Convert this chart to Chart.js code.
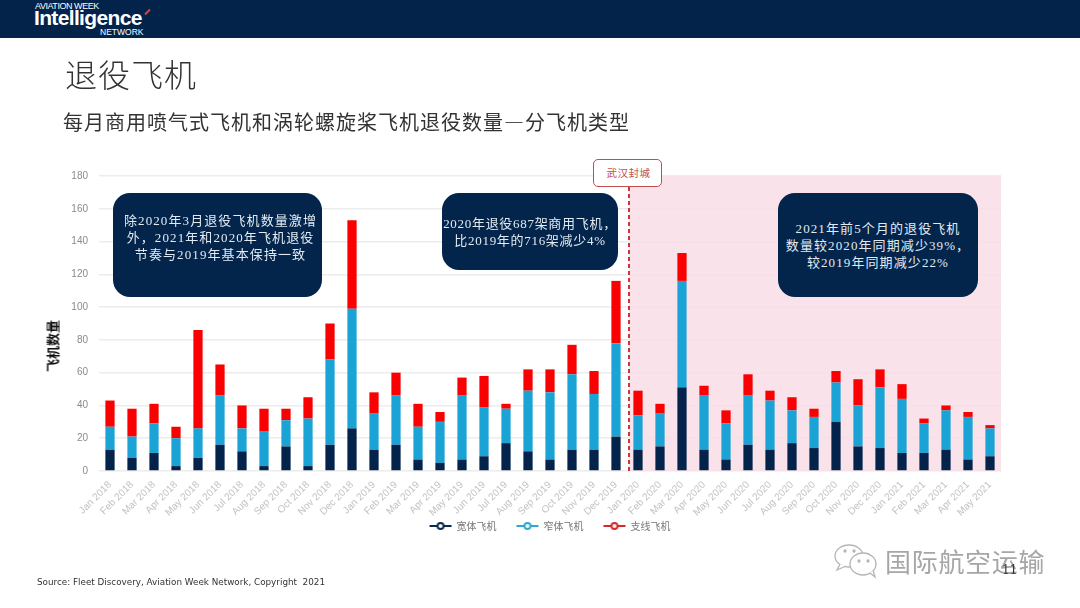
<!DOCTYPE html>
<html lang="zh">
<head>
<meta charset="UTF-8">
<title>退役飞机</title>
<script src="https://cdn.jsdelivr.net/npm/chart.js@4"></script>
<style>
  html, body { margin: 0; padding: 0; background: #fff; }
  #page { position: relative; width: 1080px; height: 608px; overflow: hidden; font-family: "Noto Sans CJK SC", sans-serif; }
  #page div { position: absolute; white-space: nowrap; }
  canvas { position: absolute; left: 0; top: 0; }
  #bar { left: 0; top: 0; width: 1080px; height: 38px; background: #03234b; }
  .logo { color: #fff; font-family: "Liberation Sans", sans-serif; }
  .callout { background: #03254c; color: #e2eaf1; border-radius: 17px; text-align: center; font-family: "Liberation Serif", "Noto Sans CJK SC", serif; font-size: 13px; line-height: 17px; letter-spacing: 1.1px; box-sizing: border-box; white-space: normal !important; }
</style>
</head>
<body>
<div id="page">
  <canvas id="chart" width="1080" height="608"></canvas>
  <div id="bar"></div>
  <div class="logo" style="left:35px;top:1px;font-size:9px;line-height:11px;letter-spacing:-.45px;">AVIATION WEEK</div>
  <div class="logo" style="left:34px;top:6px;font-size:21px;font-weight:bold;letter-spacing:-.65px;">Intelligence</div>
  <div class="logo" style="left:100px;top:28px;font-size:8.5px;line-height:9px;">NETWORK</div>
  <div style="left:144px;top:11px;width:7px;height:2px;background:#d9443f;transform:rotate(-45deg);"></div>

  <div style="left:65px;top:51px;font-size:32px;line-height:44px;color:#333;font-weight:300;letter-spacing:1px;">退役飞机</div>
  <div style="left:63px;top:108px;font-size:20px;line-height:28px;color:#333;letter-spacing:1px;">每月商用喷气式飞机和涡轮螺旋桨飞机退役数量—分飞机类型</div>

  <div style="left:52px;top:346px;font-size:13px;font-weight:bold;color:#111;transform:translate(-50%,-50%) rotate(-90deg);">飞机数量</div>

  <div class="callout" style="left:113px;top:193px;width:209px;height:104px;padding-top:19px;padding-left:6px;">除2020年3月退役飞机数量激增<br>外，2021年和2020年飞机退役<br>节奏与2019年基本保持一致</div>
  <div class="callout" style="left:442px;top:193px;width:176px;height:77px;padding-top:22px;letter-spacing:.7px;white-space:nowrap !important;">2020年退役687架商用飞机，<br>比2019年的716架减少4%</div>
  <div class="callout" style="left:778px;top:193px;width:200px;height:104px;padding-top:27px;">2021年前5个月的退役飞机<br>数量较2020年同期减少39%，<br>较2019年同期减少22%</div>

  <div style="left:593px;top:159px;width:69px;height:28px;box-sizing:border-box;background:#fff;border:1.5px solid #c0504d;border-radius:5px;color:#c0504d;font-size:10.5px;line-height:26px;text-align:center;letter-spacing:.5px;padding-left:2px;">武汉封城</div>

  <div style="left:37px;top:576px;font-family:'DejaVu Sans',sans-serif;font-size:8.8px;line-height:13px;color:#333;white-space:pre;">Source: Fleet Discovery, Aviation Week Network, Copyright  2021</div>

  <svg style="position:absolute;left:834px;top:543px;" width="46" height="36" viewBox="0 0 46 36" fill="#fff" stroke="#b5b5b5" stroke-width="1.3">
    <ellipse cx="15" cy="13" rx="14" ry="11"/>
    <path d="M6 21 L3 27 L12 23"/>
    <ellipse cx="29" cy="21" rx="13" ry="11"/>
    <path d="M36 30 L41 34 L39 27"/>
    <circle cx="11" cy="8" r="1" fill="#aaa"/><circle cx="20" cy="8" r="1" fill="#aaa"/>
    <circle cx="25" cy="18" r="1" fill="#aaa"/><circle cx="34" cy="18" r="1" fill="#aaa"/>
  </svg>
  <div style="left:885px;top:544px;font-size:26px;line-height:34px;color:#a6a6a6;letter-spacing:.7px;text-shadow:1px 1px 0 #fff;">国际航空运输</div>
  <div style="left:1002px;top:563px;font-size:12px;line-height:14px;color:#333;font-family:'DejaVu Serif',serif;">11</div>
</div>

<script>
const months = ["Jan","Feb","Mar","Apr","May","Jun","Jul","Aug","Sep","Oct","Nov","Dec"];
const labels = [];
[2018, 2019, 2020, 2021].forEach(y => months.forEach(m => labels.push(m + " " + y)));
labels.length = 41;

const wide = [13,8,11,3,8,16,12,3,15,3,16,26, 13,16,7,5,7,9,17,12,7,13,13,21, 13,15,51,13,7,16,13,17,14,30,15,14, 11,11,13,7,9];
const narrow = [14,13,18,17,18,30,14,21,16,29,52,73, 22,30,20,25,39,30,21,37,41,46,34,57, 21,20,65,33,22,30,30,20,19,24,25,37, 33,18,24,26,17];
const regional = [16,17,12,7,60,19,14,14,7,13,22,54, 13,14,14,6,11,19,3,13,14,18,14,38, 15,6,17,6,8,13,6,8,5,7,16,11, 9,3,3,3,2];
const seriesNames = ["宽体飞机", "窄体飞机", "支线飞机"];
const lockdownAfter = "Dec 2019";

const colors = ["#03234b", "#1ba3d6", "#fa0000"];
const legendLine = ["#0c2a4d", "#2fa8cf", "#d8272d"];

function legendMark(color) {
  const c = document.createElement("canvas");
  c.width = 26; c.height = 10;
  const x = c.getContext("2d");
  x.strokeStyle = color; x.lineWidth = 2;
  x.beginPath(); x.moveTo(2, 5); x.lineTo(24, 5); x.stroke();
  x.fillStyle = "#fff";
  x.beginPath(); x.arc(13, 5, 3, 0, Math.PI * 2); x.fill(); x.stroke();
  return c;
}

// pink band after the lockdown, with the dashed marker line
const lockdownBand = {
  id: "lockdownBand",
  afterLayout(chart) {
    // tick labels get clipped to the scale box, let them hang past the legend top
    chart.scales.x.bottom += 30;
  },
  beforeDatasetsDraw(chart) {
    const { ctx, chartArea: a, scales: { x } } = chart;
    const i = labels.indexOf(lockdownAfter);
    const px = (x.getPixelForValue(i) + x.getPixelForValue(i + 1)) / 2 + 2;
    ctx.save();
    ctx.fillStyle = "rgba(248,222,230,0.88)";
    ctx.fillRect(px, a.top, a.right - px, a.bottom - a.top);
    ctx.strokeStyle = "#d0343a";
    ctx.lineWidth = 2;
    ctx.setLineDash([4, 3]);
    ctx.beginPath();
    ctx.moveTo(px, 187);
    ctx.lineTo(px, a.bottom);
    ctx.stroke();
    ctx.restore();
  }
};

new Chart(document.getElementById("chart").getContext("2d"), {
  type: "bar",
  data: {
    labels: labels,
    datasets: [
      { label: seriesNames[0], data: wide, backgroundColor: colors[0] },
      { label: seriesNames[1], data: narrow, backgroundColor: colors[1] },
      { label: seriesNames[2], data: regional, backgroundColor: colors[2] }
    ]
  },
  plugins: [lockdownBand],
  options: {
    responsive: false,
    animation: false,
    devicePixelRatio: 1,
    layout: { padding: { left: 40, right: 79, top: 176, bottom: 67 } },
    datasets: { bar: { barPercentage: 0.42, categoryPercentage: 1 } },
    scales: {
      x: {
        stacked: true,
        grid: { display: false },
        border: { display: false },
        ticks: {
          autoSkip: false, minRotation: 45, maxRotation: 45, padding: 0,
          color: "#c2c2c2",
          font: { family: "'Liberation Sans', sans-serif", size: 10 }
        },
        afterFit(s) { s.height = 30; }
      },
      y: {
        stacked: true,
        min: 0, max: 180,
        grid: { color: "#ececec", lineWidth: 1.5, drawTicks: false },
        border: { display: false },
        ticks: {
          stepSize: 20, padding: 11,
          color: "#8a8a8a",
          font: { family: "'Liberation Sans', sans-serif", size: 10 }
        },
        afterFit(s) { s.width = 59; }
      }
    },
    plugins: {
      tooltip: { enabled: false },
      legend: {
        position: "bottom",
        fullSize: false,
        labels: {
          usePointStyle: true,
          pointStyleWidth: 22,
          boxHeight: 10,
          padding: 20,
          color: "#777",
          font: { family: "'Noto Sans CJK SC', sans-serif", size: 10 },
          generateLabels(chart) {
            return chart.data.datasets.map((d, i) => ({
              text: d.label,
              fontColor: "#777",
              pointStyle: legendMark(legendLine[i]),
              datasetIndex: i,
              lineWidth: 0
            }));
          }
        }
      }
    }
  }
});
</script>
</body>
</html>
